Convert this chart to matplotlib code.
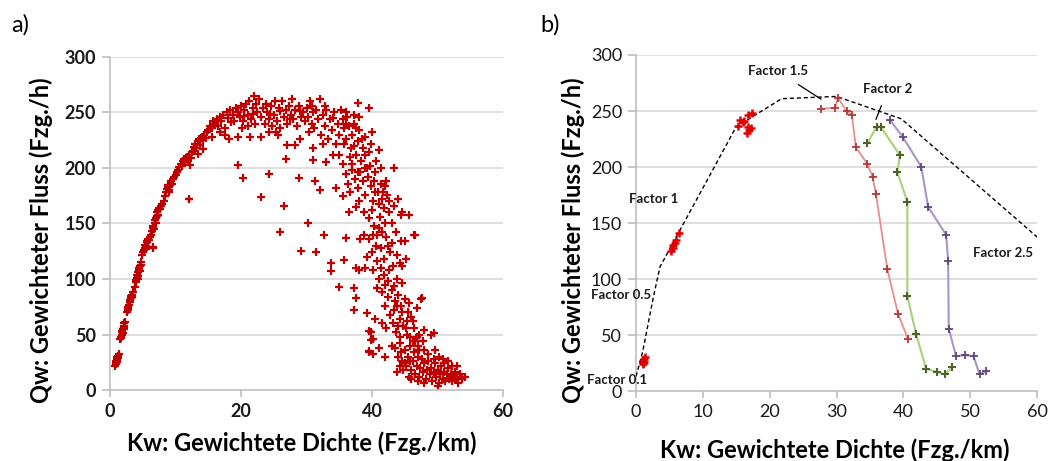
import matplotlib
matplotlib.use("Agg")
import matplotlib.pyplot as plt
import numpy as np

plt.rcParams['font.family'] = ['Lato', 'DejaVu Sans']

# ---- panel a: scatter of measured (Kw, Qw) pairs ----
pts_a = [
    # left arm
    (0.8, 22), (0.9, 24), (0.9, 26), (1.0, 25), (1.0, 28), (1.1, 27), (1.1, 30), (1.2, 29), (1.2, 31), (1.3, 32), (0.85, 23), (1.05, 29),
    (1.6, 46), (1.7, 48), (1.8, 50), (1.8, 52), (1.9, 53), (2.0, 55), (2.0, 51), (2.1, 57), (2.2, 58), (2.2, 60), (2.3, 61), (1.7, 47), (2.1, 55),
    (2.6, 70), (2.7, 73), (2.8, 75), (2.9, 77), (3.0, 79), (3.0, 81), (3.1, 80), (3.2, 83), (3.3, 84), (3.4, 86), (3.5, 88), (2.8, 72), (3.2, 85),
    (3.8, 93), (3.9, 97), (4.0, 99), (4.1, 101), (4.1, 104), (4.2, 103), (4.3, 106), (4.4, 108), (4.5, 110), (4.6, 112), (4.7, 113), (4.8, 115), (4.3, 100), (4.6, 107),
    (4.9, 122), (5.0, 124), (5.2, 126), (5.3, 128), (5.4, 131), (5.5, 130), (5.6, 133), (5.7, 134), (5.8, 136), (6.0, 135), (6.1, 138), (6.3, 140), (6.6, 128), (5.5, 127),
    (6.4, 143), (6.5, 146), (6.6, 148), (6.8, 150), (6.9, 153), (7.0, 155), (7.1, 157), (7.2, 160), (7.3, 158), (7.4, 162), (7.5, 164), (7.6, 163), (7.8, 166), (8.0, 168), (8.2, 170), (7.0, 150), (6.7, 145),
    (8.4, 175), (8.6, 178), (8.7, 181), (8.9, 183), (9.0, 180), (9.2, 185), (9.3, 188), (9.5, 186), (9.6, 190), (9.8, 192), (10.0, 194), (10.2, 196), (9.0, 178), (8.8, 185),
    (10.4, 198), (10.6, 201), (10.8, 204), (11.0, 202), (11.1, 206), (11.3, 208), (11.5, 205), (11.7, 210), (11.9, 207), (12.1, 212), (12.3, 209), (12.5, 214), (12.2, 203), (12.0, 172),
    (12.6, 215), (12.8, 219), (13.0, 222), (13.2, 218), (13.4, 224), (13.6, 226), (13.8, 221), (14.0, 228), (14.2, 225), (14.4, 230), (14.6, 227), (14.8, 232), (13.5, 213), (14.2, 217),
    # cap
    (15.0, 234), (15.3, 238), (15.6, 236), (15.8, 242), (16.0, 240), (16.3, 244), (16.5, 238), (16.8, 246), (17.0, 242), (17.3, 248), (17.5, 236), (17.8, 250), (18.0, 245), (18.3, 252), (18.5, 241), (18.8, 248), (15.5, 228), (16.8, 232), (17.6, 230), (18.2, 226),
    (19.2, 254), (19.5, 250), (19.8, 246), (20.0, 256), (20.3, 242), (20.5, 252), (20.8, 258), (21.0, 248), (21.2, 260), (21.5, 244), (21.8, 254), (22.0, 265), (22.3, 258), (22.5, 250), (22.8, 262), (23.0, 246), (23.3, 254), (23.6, 240), (21.0, 238), (22.2, 240), (19.0, 242), (20.2, 236), (19.6, 228), (21.3, 228), (23.0, 228),
    (24.0, 250), (24.3, 244), (24.6, 256), (24.8, 238), (25.0, 248), (25.3, 232), (25.5, 242), (25.8, 254), (26.0, 236), (26.2, 260), (26.5, 246), (26.8, 252), (27.0, 240), (27.3, 256), (27.6, 248), (27.8, 262), (28.0, 244), (28.3, 252), (28.6, 238), (28.9, 256), (29.2, 246), (29.5, 250), (29.8, 242), (25.2, 260), (27.0, 221), (28.2, 221), (25.6, 230), (24.2, 232), (29.0, 226),
    (30.0, 254), (30.2, 246), (30.5, 260), (30.8, 240), (31.0, 250), (31.2, 236), (31.5, 252), (31.8, 244), (32.0, 262), (32.2, 230), (32.5, 248), (32.8, 238), (33.0, 252), (33.3, 226), (33.6, 244), (33.9, 234), (34.2, 250), (34.5, 222), (34.8, 240), (35.0, 230), (31.0, 218), (32.5, 222), (30.4, 232), (33.0, 205), (34.0, 212),
    (24.5, 249), (26.0, 251), (27.5, 244), (29.0, 251), (30.8, 256), (32.8, 256), (34.0, 245), (21.8, 249), (23.8, 258), (20.5, 247),
    # right arm
    (35.2, 252), (35.5, 244), (35.8, 236), (36.0, 226), (36.2, 246), (36.5, 238), (36.8, 218), (37.0, 230), (37.2, 240), (37.5, 212), (37.8, 224), (38.0, 234), (38.3, 206), (38.6, 218), (38.9, 228), (39.2, 200), (39.5, 214), (39.8, 222), (40.0, 232),
    (35.0, 212), (35.5, 204), (36.0, 195), (36.3, 186), (36.7, 178), (37.0, 198), (37.4, 190), (37.8, 182), (38.2, 196), (38.6, 188), (39.0, 176), (39.4, 192), (39.8, 184), (40.2, 170), (40.6, 206), (41.0, 216), (41.3, 200), (40.5, 196), (35.5, 175), (34.5, 182), (36.5, 160), (37.5, 165), (38.0, 170), (38.8, 160), (37.2, 248), (38.0, 246), (36.0, 250),
    (35.8, 222), (36.6, 210), (37.3, 220), (38.4, 226), (39.0, 212), (39.7, 202), (40.3, 188), (40.9, 178), (41.4, 186), (36.9, 204), (37.9, 196), (38.9, 200), (36.1, 240), (37.6, 236),
    (39.5, 155), (40.0, 162), (40.3, 148), (40.8, 140), (41.2, 156), (41.5, 172), (41.8, 164), (42.0, 184), (42.3, 176), (42.0, 150), (41.6, 142), (40.6, 130), (39.6, 136), (38.8, 140), (38.2, 136), (39.2, 120), (40.0, 124), (40.8, 116), (41.4, 128), (41.9, 118), (42.4, 130), (42.8, 124), (43.2, 112), (42.6, 108), (41.8, 104), (41.0, 100), (40.2, 108), (42.6, 160), (43.0, 150), (43.6, 142), (43.4, 166), (44.0, 172), (44.6, 160), (44.4, 134), (45.0, 134), (45.2, 118), (44.6, 112), (43.8, 100), (42.2, 188), (43.3, 200), (44.5, 158), (46.4, 140), (45.6, 158), (39.0, 110), (36.0, 137), (37.5, 110), (38.0, 108),
    (40.4, 178), (41.0, 168), (41.7, 178), (42.6, 170), (40.1, 140), (41.0, 146), (42.2, 138), (43.0, 132), (43.8, 122), (44.2, 114), (41.4, 110), (42.4, 98), (43.4, 94), (44.6, 96),
    (40.8, 92), (41.5, 88), (42.0, 95), (42.5, 84), (43.0, 90), (43.5, 80), (44.0, 86), (44.5, 76), (45.0, 82), (45.5, 70), (42.0, 76), (42.8, 68), (43.4, 72), (44.2, 64), (44.8, 58), (45.3, 62), (46.0, 66), (46.4, 56), (46.8, 74), (47.5, 82), (41.5, 60), (42.2, 56), (43.6, 52), (44.2, 48), (45.8, 48), (46.5, 44), (47.2, 50), (48.0, 54), (47.0, 40), (40.5, 64), (39.8, 52), (40.2, 46), (41.0, 38), (42.0, 30), (43.0, 40), (39.6, 34),
    (43.8, 76), (44.6, 70), (45.2, 56), (45.6, 78), (46.2, 62), (43.2, 60), (44.0, 58),
    # congested blob
    (43.5, 38), (44.0, 30), (44.2, 42), (44.6, 26), (45.0, 36), (45.2, 22), (45.5, 30), (45.8, 40), (46.0, 18), (46.2, 26), (46.4, 34), (46.6, 14), (46.8, 22), (47.0, 30), (47.2, 12), (47.4, 20), (47.6, 28), (47.8, 16), (48.0, 24), (48.2, 10), (48.4, 18), (48.6, 26), (48.8, 14), (49.0, 20), (49.2, 8), (49.4, 16), (49.6, 24), (49.8, 12), (50.0, 18), (50.2, 6), (50.4, 14), (50.6, 22), (50.8, 10), (51.0, 16), (51.2, 8), (51.4, 14), (51.6, 20), (51.8, 10), (52.0, 14), (52.2, 8), (52.4, 12), (52.6, 16), (52.8, 10), (53.0, 12), (53.2, 6), (53.5, 14), (53.8, 10), (54.2, 12),
    (44.8, 18), (45.6, 12), (46.2, 44), (47.0, 8), (48.0, 36), (48.6, 32), (49.4, 28), (50.2, 30), (51.0, 24), (51.6, 26), (52.2, 22), (49.0, 50), (47.8, 44), (46.8, 48), (45.4, 50), (50.0, 4), (45.0, 24), (46.0, 10), (48.0, 6), (44.2, 22), (43.8, 16), (44.4, 34), (45.8, 26), (47.2, 36), (49.6, 36), (50.8, 28), (53.0, 22),
    # scattered outliers
    (19.5, 203), (20.3, 191), (23.1, 174), (24.3, 195), (25.9, 142), (26.6, 166), (26.8, 208), (28.9, 191), (29.2, 125), (30.2, 150), (31.4, 124), (32.0, 180), (31.3, 188), (31.0, 207), (32.6, 140), (33.7, 114), (33.8, 107), (34.9, 93), (35.8, 117), (37.3, 92), (37.3, 72), (37.6, 83), (39.2, 69), (39.5, 53), (39.9, 45), (39.6, 35), (40.1, 32), (12.0, 172), (6.6, 129), (37.9, 259), (39.5, 254), (46.6, 140), (47.6, 83), (49.4, 51),
]
kw_a = [p[0] for p in pts_a]
qw_a = [p[1] for p in pts_a]

# ---- panel b: model curve and factor runs ----
fd_k = [0, 1.0, 2.6, 3.6, 15, 21.8, 30, 39.7, 60.5]
fd_q = [13, 35, 84, 111, 236, 261, 263, 243, 135]

f01_k = [1.0, 1.1, 1.2, 1.3, 1.0, 1.2]
f01_q = [25, 27, 29, 30, 24, 26]
f05_k = [5.3, 5.5, 5.8, 6.0, 6.4, 5.5]
f05_q = [125, 128, 132, 135, 141, 130]
f1_k = [15.2, 15.5, 16.2, 16.7, 16.9, 16.6, 17.2, 16.8, 17.4, 16.0]
f1_q = [237, 242, 241, 236, 233, 230, 235, 246, 248, 240]

f15_k = [27.75, 29.8, 30.2, 31.5, 32.3, 32.9, 34.6, 35.4, 35.9, 37.6, 39.2, 40.7]
f15_q = [252, 253, 262, 250, 246.5, 217.5, 203, 191, 176, 109, 69, 46.5]
f2_k = [34.6, 36.0, 36.6, 39.5, 39.1, 40.6, 40.6, 41.9, 43.4, 45.0, 46.2, 47.3]
f2_q = [221, 236, 236, 210.5, 195.5, 169, 85, 51, 20, 17, 15, 21]
f25_k = [38.0, 39.9, 42.7, 43.7, 46.4, 46.7, 46.8, 47.9, 49.2, 50.5, 51.4, 52.4]
f25_q = [242, 227, 200, 164.5, 139.5, 116, 55.5, 31, 32, 31, 15, 18]

grid_c = '#d9d9d9'
axis_c = '#bfbfbf'

fig = plt.figure(figsize=(10.48, 4.61), dpi=100)
ax1 = fig.add_axes([110/1048, 71/461, 393/1048, 333/461])
ax2 = fig.add_axes([636/1048, 70/461, 401/1048, 336/461])


def style(ax, xticks, bold_ticks):
    ax.set_ylim(0, 300)
    ax.set_xlim(0, 60)
    ax.set_yticks(range(0, 301, 50))
    ax.set_xticks(xticks)
    for y in range(50, 301, 50):
        ax.axhline(y, color=grid_c, lw=1.2, zorder=0)
    for s in ['top', 'right']:
        ax.spines[s].set_visible(False)
    for s in ['left', 'bottom']:
        ax.spines[s].set_color(axis_c)
        ax.spines[s].set_linewidth(1.2)
    ax.tick_params(axis='both', colors=axis_c, length=5, width=1.2,
                   labelcolor='#1a1a1a', labelsize=13, pad=4)
    ax.tick_params(axis='y', length=6)
    if bold_ticks:
        for t in ax.get_xticklabels() + ax.get_yticklabels():
            t.set_fontweight('bold')
    ax.set_xlabel('Kw: Gewichtete Dichte (Fzg./km)', fontsize=17, fontweight='bold')
    ax.set_ylabel('Qw: Gewichteter Fluss (Fzg./h)', fontsize=17, fontweight='bold')


style(ax1, [0, 20, 40, 60], True)
style(ax2, range(0, 61, 10), False)
ax1.xaxis.set_label_coords(0.487, -0.125)
ax1.yaxis.set_label_coords(-0.145, 0.45)
ax2.xaxis.set_label_coords(0.496, -0.14)
ax2.yaxis.set_label_coords(-0.127, 0.448)

ax1.plot(kw_a, qw_a, linestyle='none', marker='+', color='#c00000',
         markersize=5.5, markeredgewidth=1.6, clip_on=False)

ax2.plot(fd_k, fd_q, color='black', lw=1, linestyle=(0, (3, 2)), zorder=3)
for k, q in [(f01_k, f01_q), (f05_k, f05_q), (f1_k, f1_q)]:
    ax2.plot(k, q, linestyle='none', marker='+', color='#e00000',
             markersize=6, markeredgewidth=1.8, zorder=4)
ax2.plot(f15_k, f15_q, color='#e88f8a', lw=1.3, marker='+', markersize=6,
         markeredgewidth=1.3, markeredgecolor='#b03a36', zorder=4)
ax2.plot(f2_k, f2_q, color='#a9d17a', lw=1.5, marker='+', markersize=6,
         markeredgewidth=1.5, markeredgecolor='#4f6228', zorder=4)
ax2.plot(f25_k, f25_q, color='#a895cc', lw=1.5, marker='+', markersize=6,
         markeredgewidth=1.3, markeredgecolor='#60497a', zorder=4, clip_on=False)

lab = dict(fontsize=9.5, fontweight='bold', color='#1a1a1a', zorder=6)
ax2.annotate('Factor 1.5', xy=(27.7, 260.5), xytext=(21.2, 285.5), ha='center', va='center',
             arrowprops=dict(arrowstyle='-', color='black', lw=0.9, shrinkA=6, shrinkB=0), **lab)
ax2.annotate('Factor 2', xy=(35.9, 242.5), xytext=(37.7, 269.5), ha='center', va='center',
             arrowprops=dict(arrowstyle='-', color='black', lw=0.9, shrinkA=6, shrinkB=0), **lab)
ax2.text(-1.0, 171.5, 'Factor 1', ha='left', va='center', **lab)
ax2.text(-6.8, 85.5, 'Factor 0.5', ha='left', va='center', **lab)
ax2.text(-7.4, 10, 'Factor 0.1', ha='left', va='center', **lab)
ax2.text(50.4, 123, 'Factor 2.5', ha='left', va='center', **lab)

fig.text(0.011, 0.97, 'a)', fontsize=17, va='top', ha='left')
fig.text(0.516, 0.97, 'b)', fontsize=17, va='top', ha='left')

fig.savefig('out.png', dpi=100)
